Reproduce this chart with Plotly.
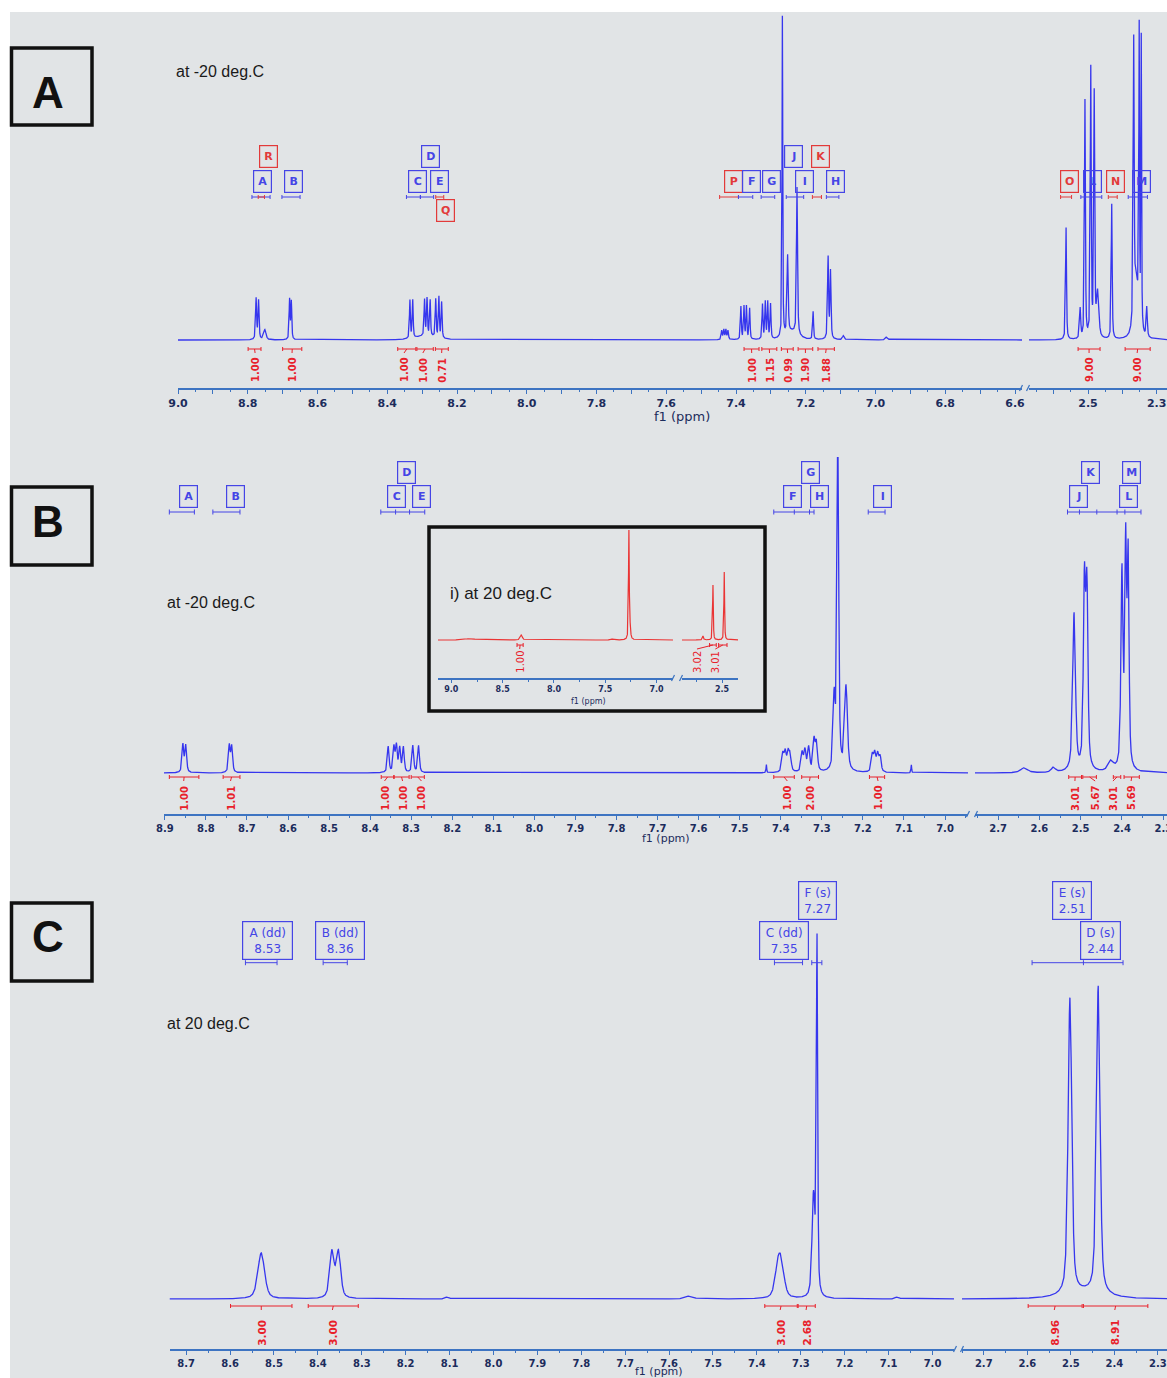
import numpy as np
import plotly.graph_objects as go

W, H = 1167, 1378

# ---------------- colours / fonts ----------------
BG = '#e1e4e6'
LINE_BLUE = '#3636ee'
BOX_BLUE = '#4545e6'
BOX_RED = '#e23a3a'
INT_RED = '#e8202a'
INSET_RED = '#ea3434'
AXIS_COL = '#3d74c2'
TICK_TXT = '#1c2c5c'
SANS = 'DejaVu Sans'

# =====================================================================
# DATA
# =====================================================================
# ---- Panel A (-20 deg C): peak ppm, intensity, half width (ppm)
A_peak_ppm = [8.776, 8.769, 8.751, 8.680, 8.675,
              8.335, 8.327, 8.293, 8.286, 8.277, 8.261, 8.252, 8.244, 8.290,
              7.441, 7.435, 7.429, 7.423,
              7.386, 7.377, 7.370, 7.361,
              7.324, 7.316, 7.309, 7.301,
              7.267, 7.252, 7.240, 7.225, 7.179, 7.136, 7.129, 7.092, 6.968,
              2.564, 2.523, 2.509, 2.492, 2.482, 2.472, 2.431,
              2.367, 2.360, 2.351, 2.345, 2.329]
A_peak_int = [41, 39, 10, 40, 38,
              38, 38, 36, 37, 36, 38, 41, 36, 4,
              9, 10, 10, 9,
              33, 33, 33, 31,
              35, 37, 37, 35,
              322, 78, 8, 148, 28, 82, 68, 4, 3,
              112, 30, 238, 268, 243, 45, 135,
              272, 55, 288, 290, 30]
A_peak_hw = [0.0018, 0.0018, 0.004, 0.0016, 0.0016,
             0.0016, 0.0016, 0.0016, 0.0016, 0.0016, 0.0016, 0.0016, 0.0016, 0.035,
             0.0018, 0.0018, 0.0018, 0.0018,
             0.0016, 0.0016, 0.0016, 0.0016,
             0.0016, 0.0016, 0.0016, 0.0016,
             0.0012, 0.002, 0.02, 0.0018, 0.0016, 0.0018, 0.0018, 0.003, 0.004,
             0.0016, 0.002, 0.0016, 0.0016, 0.0018, 0.004, 0.0016,
             0.0016, 0.008, 0.0012, 0.0012, 0.002]

A_lab_text = ['R', 'A', 'B', 'D', 'C', 'E', 'Q', 'P', 'F', 'G', 'J', 'I', 'K', 'H', 'O', 'L', 'N', 'M']
A_lab_ppm = [8.741, 8.759, 8.668, 8.275, 8.314, 8.249, 8.234, 7.408, 7.357, 7.298,
             7.235, 7.205, 7.158, 7.115, 2.554, 2.488, 2.420, 2.344]
A_lab_row = [0, 1, 1, 0, 1, 1, 2, 1, 1, 1, 0, 1, 0, 1, 1, 1, 1, 1]
A_lab_red = [1, 0, 0, 0, 0, 0, 1, 1, 0, 0, 0, 0, 1, 0, 1, 0, 1, 0]

A_brk_from = [8.788, 8.770, 8.702, 8.345, 8.305, 8.261, 7.447, 7.393, 7.328, 7.256,
              7.181, 7.141, 2.580, 2.521, 2.441, 2.383]
A_brk_to = [8.736, 8.752, 8.650, 8.305, 8.267, 8.238, 7.393, 7.352, 7.289, 7.206,
            7.155, 7.105, 2.548, 2.460, 2.415, 2.327]
A_brk_red = [0, 1, 0, 0, 0, 1, 1, 0, 0, 0, 1, 0, 1, 0, 1, 0]

A_int_text = ['1.00', '1.00', '1.00', '1.00', '0.71', '1.00', '1.15', '0.99', '1.90', '1.88', '9.00', '9.00']
A_int_ppm = [8.779, 8.673, 8.352, 8.298, 8.244, 7.355, 7.304, 7.252, 7.201, 7.143, 2.497, 2.357]
A_int_from = [8.799, 8.700, 8.370, 8.315, 8.262, 7.377, 7.326, 7.270, 7.222, 7.165, 2.529, 2.392]
A_int_to = [8.762, 8.645, 8.318, 8.268, 8.225, 7.334, 7.283, 7.236, 7.180, 7.118, 2.465, 2.319]

A_tick_left = [round(9.0 - 0.1 * i, 1) for i in range(25)]
A_tick_left_text = ['9.0', '', '8.8', '', '8.6', '', '8.4', '', '8.2', '', '8.0', '', '7.8', '',
                    '7.6', '', '7.4', '', '7.2', '', '7.0', '', '6.8', '', '6.6']
A_tick_right = [2.6, 2.5, 2.4, 2.3]
A_tick_right_text = ['', '2.5', '', '2.3']

# ---- Panel B (-20 deg C)
B_peak_ppm = [8.856, 8.849, 8.743, 8.737,
              8.356, 8.342, 8.336, 8.328, 8.319, 8.296, 8.282,
              7.435, 7.395, 7.389, 7.382, 7.377,
              7.348, 7.341, 7.332, 7.319, 7.313,
              7.261, 7.270, 7.241,
              7.177, 7.171, 7.164, 7.158, 7.082,
              2.637, 2.566, 2.516, 2.491, 2.485, 2.427, 2.400, 2.391, 2.385]
B_peak_int = [28, 27, 27, 26,
              26, 25, 26, 24, 25, 27, 27,
              8, 18, 19, 18, 16,
              19, 21, 24, 31, 28,
              340, 70, 85,
              17, 18, 17, 15, 8,
              5, 5, 158, 182, 176, 10, 196, 218, 208]
B_peak_hw = [0.0025, 0.0025, 0.0025, 0.0025,
             0.0025, 0.0025, 0.0025, 0.0025, 0.0025, 0.0025, 0.0025,
             0.001, 0.003, 0.003, 0.003, 0.003,
             0.003, 0.003, 0.003, 0.003, 0.003,
             0.0025, 0.003, 0.004,
             0.003, 0.003, 0.003, 0.003, 0.001,
             0.01, 0.006, 0.004, 0.003, 0.003, 0.008, 0.003, 0.0025, 0.0025]

B_lab_text = ['A', 'B', 'D', 'C', 'E', 'F', 'G', 'H', 'I', 'J', 'K', 'M', 'L']
B_lab_ppm = [8.843, 8.727, 8.312, 8.335, 8.275, 7.372, 7.328, 7.306, 7.153, 2.506, 2.477, 2.378, 2.385]
B_lab_row = [1, 1, 0, 1, 1, 1, 0, 1, 1, 1, 0, 0, 1]

B_brk_from = [8.889, 8.783, 8.374, 7.417, 7.187, 2.532]
B_brk_to = [8.828, 8.717, 8.267, 7.319, 7.146, 2.354]
B_brk_marks = [[], [], [8.338, 8.304], [7.367, 7.330], [], [2.503, 2.461, 2.412, 2.393]]

B_int_text = ['1.00', '1.01', '1.00', '1.00', '1.00', '1.00', '2.00', '1.00', '3.01', '5.67', '3.01', '5.69']
B_int_ppm = [8.854, 8.740, 8.365, 8.321, 8.275, 7.384, 7.330, 7.163, 2.514, 2.465, 2.422, 2.378]
B_int_from = [8.889, 8.758, 8.373, 8.342, 8.300, 7.417, 7.349, 7.184, 2.529, 2.495, 2.421, 2.395]
B_int_to = [8.817, 8.717, 8.342, 8.305, 8.268, 7.367, 7.308, 7.147, 2.498, 2.462, 2.403, 2.358]

B_tick_left = [round(8.9 - 0.1 * i, 1) for i in range(20)]
B_tick_left_text = ['8.9', '8.8', '8.7', '8.6', '8.5', '8.4', '8.3', '8.2', '8.1', '8.0',
                    '7.9', '7.8', '7.7', '7.6', '7.5', '7.4', '7.3', '7.2', '7.1', '7.0']
B_tick_right = [2.7, 2.6, 2.5, 2.4, 2.3]
B_tick_right_text = ['2.7', '2.6', '2.5', '2.4', '2.3']

# ---- Inset i) (20 deg C)
I_peak_ppm = [8.82, 8.318, 7.44, 7.27, 7.262, 2.685, 2.588, 2.478]
I_peak_int = [1.5, 5, 1, 105, 15, 4, 55, 68]
I_peak_hw = [0.05, 0.012, 0.01, 0.004, 0.008, 0.006, 0.004, 0.004]
I_int_text = ['1.00', '3.02', '3.01']
I_int_ppm = [8.334, 2.744, 2.565]
I_int_from = [8.36, 2.621, 2.533]
I_int_to = [8.30, 2.556, 2.451]
I_tick_left = [9.0, 8.5, 8.0, 7.5, 7.0]
I_tick_left_text = ['9.0', '8.5', '8.0', '7.5', '7.0']
I_tick_right = [2.5]
I_tick_right_text = ['2.5']

# ---- Panel C (20 deg C)
C_peak_ppm = [8.529, 8.368, 8.353, 8.105, 7.553, 7.352, 7.344, 7.271, 7.263, 7.080,
              2.502, 2.437, 2.470]
C_peak_int = [46, 46, 46, 2, 3, 28, 28, 100, 352, 2, 296, 308, 6]
C_peak_hw = [0.009, 0.006, 0.006, 0.005, 0.01, 0.008, 0.008, 0.004, 0.0018, 0.005,
             0.005, 0.005, 0.05]

C_lab_text = ['A (dd)<br>8.53', 'B (dd)<br>8.36', 'C (dd)<br>7.35', 'F (s)<br>7.27',
              'E (s)<br>2.51', 'D (s)<br>2.44']
C_lab_ppm = [8.515, 8.350, 7.338, 7.263, 2.497, 2.432]
C_lab_row = [1, 1, 1, 0, 0, 1]
C_lab_w = [52, 51, 51, 40, 41, 42]

C_brk_from = [8.565, 8.388, 7.360, 7.275, 2.589]
C_brk_to = [8.493, 8.333, 7.296, 7.252, 2.380]
C_brk_marks = [[], [], [], [], [2.471]]

C_int_text = ['3.00', '3.00', '3.00', '2.68', '8.96', '8.91']
C_int_ppm = [8.529, 8.367, 7.347, 7.288, 2.538, 2.399]
C_int_from = [8.599, 8.422, 7.382, 7.306, 2.598, 2.471]
C_int_to = [8.459, 8.308, 7.308, 7.267, 2.474, 2.323]

C_tick_left = [round(8.7 - 0.1 * i, 1) for i in range(18)]
C_tick_left_text = ['8.7', '8.6', '8.5', '8.4', '8.3', '8.2', '8.1', '8.0', '7.9', '7.8',
                    '7.7', '7.6', '7.5', '7.4', '7.3', '7.2', '7.1', '7.0']
C_tick_right = [2.7, 2.6, 2.5, 2.4, 2.3]
C_tick_right_text = ['2.7', '2.6', '2.5', '2.4', '2.3']

# =====================================================================
# layout helpers (pixel -> paper)
# =====================================================================
def PX(px):
    return px / W


def PY(py):
    return 1 - py / H


# x axes: pixel domain, ppm range, anchor y
XAX = {
    'x':  dict(dom=(178, 1022), rng=(9.0, 6.58), y='y'),
    'x2': dict(dom=(1029, 1167), rng=(2.672, 2.27), y='y'),
    'x3': dict(dom=(164, 968), rng=(8.902, 6.944), y='y2'),
    'x4': dict(dom=(975, 1167), rng=(2.756, 2.291), y='y2'),
    'x5': dict(dom=(438, 673), rng=(9.13, 6.84), y='y3'),
    'x6': dict(dom=(682, 738), rng=(2.89, 2.344), y='y3'),
    'x7': dict(dom=(169.5, 954), rng=(8.738, 6.951), y='y4'),
    'x8': dict(dom=(962, 1167), rng=(2.75, 2.279), y='y4'),
}
# y axes: pixel domain (top, bottom) and the intensity range it shows
YAX = {
    'y':  dict(dom=(12, 388), rng=(-48, 328)),
    'y2': dict(dom=(457, 814), rng=(-41, 316)),
    'y3': dict(dom=(530, 678), rng=(-38, 110)),
    'y4': dict(dom=(870, 1349), rng=(-50, 429)),
}


def lineshape(x, cs, hs, ws, eta):
    y = np.zeros_like(x)
    for c, h, w in zip(cs, hs, ws):
        d = (x - c) / w
        d2 = d * d
        y += h * (eta / (1 + d2) + (1 - eta) * np.exp(-np.log(2) * d2))
    return y


fig = go.Figure()
shapes = []
annotations = []

# background
shapes.append(dict(type='rect', xref='paper', yref='paper', x0=PX(10), x1=1, y0=0, y1=PY(12),
                   fillcolor=BG, line=dict(width=0), layer='below'))
# inset frame
shapes.append(dict(type='rect', xref='paper', yref='paper', x0=PX(429), x1=PX(765), y0=PY(711), y1=PY(527),
                   fillcolor=BG, line=dict(color='#111111', width=3.5), layer='below'))


def add_spectrum(xa, cs, hs, ws, eta, color, width, n):
    r = XAX[xa]['rng']
    x = np.linspace(r[1], r[0], n)
    y = lineshape(x, cs, hs, ws, eta)
    fig.add_trace(go.Scatter(x=x, y=y, mode='lines', xaxis=xa, yaxis=XAX[xa]['y'],
                             line=dict(color=color, width=width), hoverinfo='skip', showlegend=False))


def seg_for(ppm, left, right):
    return left if ppm > 5 else right


def add_labels(texts, ppms, rows, colors, left, right, row_y, w, h, size, bold=True, widths=None):
    for i, (t, p, r, c) in enumerate(zip(texts, ppms, rows, colors)):
        xa = seg_for(p, left, right)
        ww = widths[i] if widths else w
        annotations.append(dict(x=p, y=row_y[r], xref=xa, yref=XAX[xa]['y'], text=t, showarrow=False,
                                font=dict(family=SANS, size=size, color=c, weight='bold' if bold else 'normal'),
                                bordercolor=c, borderwidth=1.2, borderpad=0, width=ww - 3, height=h - 3,
                                align='center', valign='middle', xanchor='center', yanchor='middle'))


def add_bracket(x1, x2, yb, marks, color, left, right, tick=2.5):
    xa = seg_for(x1, left, right)
    ya = XAX[xa]['y']
    ln = dict(color=color, width=1)
    shapes.append(dict(type='line', xref=xa, yref=ya, x0=x1, x1=x2, y0=yb, y1=yb, line=ln))
    for m in [x1, x2] + list(marks):
        shapes.append(dict(type='line', xref=xa, yref=ya, x0=m, x1=m, y0=yb - tick, y1=yb + tick, line=ln))


def add_integrals(texts, ppms, froms, tos, yb, yt, left, right, size=10.5):
    for t, p, a, b in zip(texts, ppms, froms, tos):
        xa = seg_for(p, left, right)
        ya = XAX[xa]['y']
        ln = dict(color=INT_RED, width=1)
        shapes.append(dict(type='line', xref=xa, yref=ya, x0=a, x1=b, y0=yb, y1=yb, line=ln))
        for m in (a, b):
            shapes.append(dict(type='line', xref=xa, yref=ya, x0=m, x1=m, y0=yb - 2, y1=yb + 2, line=ln))
        c = (a + b) / 2
        shapes.append(dict(type='line', xref=xa, yref=ya, x0=c, x1=p, y0=yb, y1=yb - 4, line=ln))
        annotations.append(dict(x=p, y=yt, xref=xa, yref=ya, text=t, showarrow=False, textangle=-90,
                                font=dict(family=SANS, size=size, color=INT_RED, weight='bold'),
                                xanchor='center', yanchor='middle'))


# ---------------- Panel A ----------------
for xa in ('x', 'x2'):
    add_spectrum(xa, A_peak_ppm, A_peak_int, A_peak_hw, 0.6, LINE_BLUE, 1.3, 9000)
add_labels(A_lab_text, A_lab_ppm, A_lab_row, [BOX_RED if r else BOX_BLUE for r in A_lab_red],
           'x', 'x2', {0: 183.5, 1: 158.5, 2: 129.5}, 20, 24, 11)
for a, b, r in zip(A_brk_from, A_brk_to, A_brk_red):
    add_bracket(a, b, 143, [], BOX_RED if r else BOX_BLUE, 'x', 'x2', tick=2)
add_integrals(A_int_text, A_int_ppm, A_int_from, A_int_to, -9, -30, 'x', 'x2', size=10)

# ---------------- Panel B ----------------
for xa in ('x3', 'x4'):
    add_spectrum(xa, B_peak_ppm, B_peak_int, B_peak_hw, 0.6, LINE_BLUE, 1.3, 7000)
add_labels(B_lab_text, B_lab_ppm, B_lab_row, [BOX_BLUE] * len(B_lab_text),
           'x3', 'x4', {0: 300.5, 1: 276.5}, 20, 24, 11)
for a, b, m in zip(B_brk_from, B_brk_to, B_brk_marks):
    add_bracket(a, b, 261, m, BOX_BLUE, 'x3', 'x4', tick=2.5)
add_integrals(B_int_text, B_int_ppm, B_int_from, B_int_to, -4, -25, 'x3', 'x4', size=10)

# ---------------- Inset ----------------
for xa in ('x5', 'x6'):
    add_spectrum(xa, I_peak_ppm, I_peak_int, I_peak_hw, 0.6, INSET_RED, 1.2, 5000)
for t, p, a, b in zip(I_int_text, I_int_ppm, I_int_from, I_int_to):
    xa = 'x5' if p > 5 else 'x6'
    ln = dict(color=INT_RED, width=1)
    shapes.append(dict(type='line', xref=xa, yref='y3', x0=a, x1=b, y0=-5, y1=-5, line=ln))
    for m in (a, b):
        shapes.append(dict(type='line', xref=xa, yref='y3', x0=m, x1=m, y0=-7, y1=-3, line=ln))
    shapes.append(dict(type='line', xref=xa, yref='y3', x0=(a + b) / 2, x1=p, y0=-5, y1=-9, line=ln))
    annotations.append(dict(x=p, y=-22, xref=xa, yref='y3', text=t, showarrow=False, textangle=-90,
                            font=dict(family=SANS, size=10, color=INT_RED),
                            xanchor='center', yanchor='middle'))

# ---------------- Panel C ----------------
for xa in ('x7', 'x8'):
    add_spectrum(xa, C_peak_ppm, C_peak_int, C_peak_hw, 0.5, LINE_BLUE, 1.3, 7000)
add_labels(C_lab_text, C_lab_ppm, C_lab_row, [BOX_BLUE] * len(C_lab_text),
           'x7', 'x8', {0: 398.7, 1: 359}, 52, 40, 12, bold=False, widths=C_lab_w)
for a, b, m in zip(C_brk_from, C_brk_to, C_brk_marks):
    add_bracket(a, b, 336.3, m, BOX_BLUE, 'x7', 'x8', tick=2.5)
add_integrals(C_int_text, C_int_ppm, C_int_from, C_int_to, -7, -33.5, 'x7', 'x8', size=10.5)

# ---------------- axes ----------------
TICKS = {
    'x': (A_tick_left, A_tick_left_text, 0.05, 11),
    'x2': (A_tick_right, A_tick_right_text, 0.05, 11),
    'x3': (B_tick_left, B_tick_left_text, 0.05, 10),
    'x4': (B_tick_right, B_tick_right_text, 0.05, 10),
    'x5': (I_tick_left, I_tick_left_text, 0.25, 8),
    'x6': (I_tick_right, I_tick_right_text, 0.25, 8),
    'x7': (C_tick_left, C_tick_left_text, 0.05, 10),
    'x8': (C_tick_right, C_tick_right_text, 0.05, 10),
}
layout = {}
for xa, cfg in XAX.items():
    vals, txt, mdt, fs = TICKS[xa]
    key = 'xaxis' if xa == 'x' else 'xaxis' + xa[1:]
    layout[key] = dict(domain=[PX(cfg['dom'][0]), PX(cfg['dom'][1])], range=list(cfg['rng']),
                       anchor=cfg['y'], showgrid=False, zeroline=False, showline=True, automargin=False,
                       linecolor=AXIS_COL, linewidth=1.6, ticks='outside', ticklen=4 if fs > 8 else 3,
                       tickwidth=1.2, tickcolor=AXIS_COL, tickmode='array', tickvals=vals, ticktext=txt,
                       tickfont=dict(family=SANS, size=fs, color=TICK_TXT, weight='bold'),
                       ticklabeloverflow='allow', fixedrange=True,
                       minor=dict(ticks='outside', ticklen=2, tickwidth=1, tickcolor=AXIS_COL,
                                  tickmode='linear', tick0=0, dtick=mdt, showgrid=False))
for ya, cfg in YAX.items():
    key = 'yaxis' if ya == 'y' else 'yaxis' + ya[1:]
    layout[key] = dict(domain=[PY(cfg['dom'][1]), PY(cfg['dom'][0])], range=list(cfg['rng']),
                       visible=False, fixedrange=True, automargin=False)

# axis break marks
for (bx, by) in [(1021, 388), (1028, 388), (968, 814), (976, 814), (955, 1349), (962, 1349), (673, 678), (681, 678)]:
    shapes.append(dict(type='line', xref='paper', yref='paper', x0=PX(bx - 1.5), x1=PX(bx + 1.5),
                       y0=PY(by + 3), y1=PY(by - 3), line=dict(color=AXIS_COL, width=1.2)))

# panel letter boxes
for (y0, y1, letter, cy) in [(48, 125, 'A', 92.5), (487, 565, 'B', 521.5), (903, 981, 'C', 936)]:
    shapes.append(dict(type='rect', xref='paper', yref='paper', x0=PX(11.5), x1=PX(92), y0=PY(y1), y1=PY(y0),
                       line=dict(color='#111111', width=3.5)))
    annotations.append(dict(x=PX(47.5), y=PY(cy), xref='paper', yref='paper', text=letter, showarrow=False,
                            font=dict(family='Liberation Sans', size=44, color='#111111', weight='bold'),
                            xanchor='center', yanchor='middle'))

# condition captions
for (tx, ty, t, fs) in [(174, 71.5, 'at -20 deg.C', 16), (165, 603, 'at -20 deg.C', 16),
                        (448, 593, 'i) at 20 deg.C', 17), (165, 1023.5, 'at 20 deg.C', 16)]:
    annotations.append(dict(x=PX(tx), y=PY(ty), xref='paper', yref='paper', text=t, showarrow=False,
                            font=dict(family='Liberation Sans', size=fs, color='#1a1a1a'),
                            xanchor='left', yanchor='middle'))

# axis titles
for (tx, ty, fs) in [(682, 416.5, 13), (666, 838, 11), (659, 1371.5, 11), (588, 701.5, 8)]:
    annotations.append(dict(x=PX(tx), y=PY(ty), xref='paper', yref='paper', text='f1 (ppm)', showarrow=False,
                            font=dict(family=SANS, size=fs, color=TICK_TXT),
                            xanchor='center', yanchor='middle'))

fig.update_layout(width=W, height=H, margin=dict(l=0, r=0, t=0, b=0, autoexpand=False), paper_bgcolor='white',
                  plot_bgcolor='rgba(0,0,0,0)', showlegend=False, shapes=shapes, annotations=annotations,
                  **layout)

fig.write_html("out.html", config={'displayModeBar': False},
               post_script="document.body.style.margin='0';document.body.style.overflow='hidden';")
